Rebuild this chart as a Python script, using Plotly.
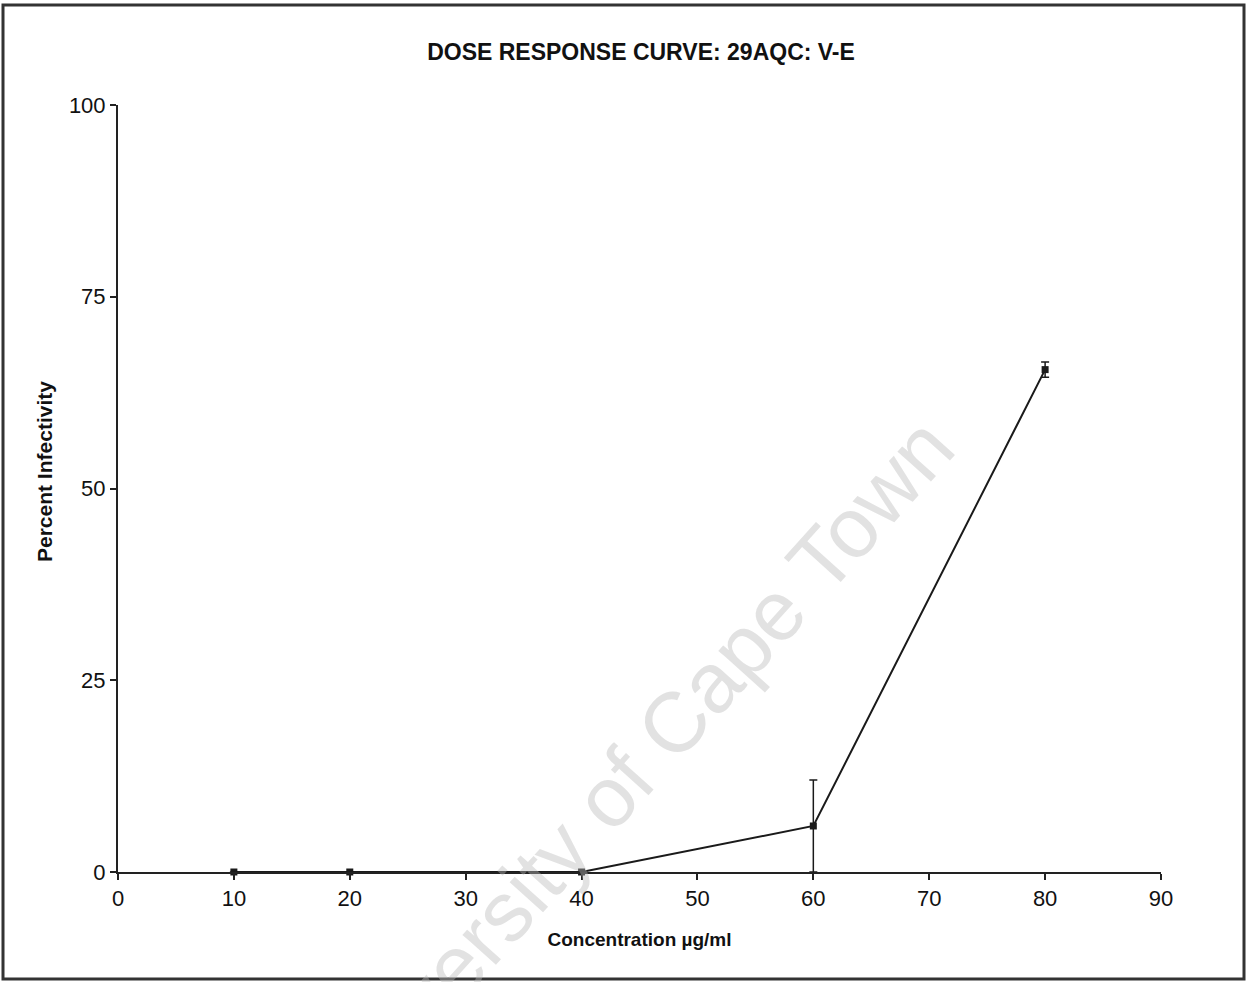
import plotly.graph_objects as go

concentration = [10, 20, 40, 60, 80]
infectivity = [0, 0, 0, 6, 65.5]
error = [0, 0, 0, 6, 1]
x_ticks = [0, 10, 20, 30, 40, 50, 60, 70, 80, 90]
y_ticks = [0, 25, 50, 75, 100]

W, H = 1247, 982
ml, mr, mt, mb = 118, 86, 105, 110
pw, ph = W - ml - mr, H - mt - mb

def px(x):
    return (x - ml) / pw

def py(y):
    return (H - mb - y) / ph

fig = go.Figure()
fig.add_trace(go.Scatter(
    x=concentration, y=infectivity,
    mode="lines+markers",
    line=dict(color="#1a1a1a", width=2),
    marker=dict(symbol="square", size=7, color="#1a1a1a"),
    error_y=dict(type="data", array=error, visible=True, color="#1a1a1a", thickness=1.5, width=4),
    showlegend=False,
    cliponaxis=False,
))

narrow = "Liberation Sans Narrow, Arial Narrow, Liberation Sans, sans-serif"
fig.update_layout(
    width=W, height=H,
    margin=dict(l=ml, r=mr, t=mt, b=mb),
    paper_bgcolor="white", plot_bgcolor="white",
    font=dict(family="Liberation Sans, Arial, sans-serif", color="#111"),
    title=dict(text="<b>DOSE RESPONSE CURVE: 29AQC: V-E</b>", xref="container", x=641 / W,
               xanchor="center", yref="container", y=1 - 52 / H, yanchor="middle",
               font=dict(size=23, family=narrow)),
    xaxis=dict(range=[0, 90], tickvals=x_ticks, ticks="outside", ticklen=6, tickwidth=1.5,
               tickcolor="#222", showline=True, linecolor="#222", linewidth=2, showgrid=False,
               zeroline=False, tickfont=dict(size=22),
               title=dict(text="<b>Concentration µg/ml</b>", font=dict(size=19), standoff=22)),
    yaxis=dict(range=[0, 100], tickvals=y_ticks, ticks="outside", ticklen=6, tickwidth=1.5,
               tickcolor="#222", showline=True, linecolor="#222", linewidth=2, showgrid=False,
               zeroline=False, tickfont=dict(size=22)),
)

# y-axis title
fig.add_annotation(text="<b>Percent Infectivity</b>", xref="paper", yref="paper",
                   x=px(44), y=py(472), xanchor="center", yanchor="middle",
                   showarrow=False, textangle=-90, font=dict(size=21, color="#111"))

# outer frame
fig.add_shape(type="rect", xref="paper", yref="paper",
              x0=px(3), x1=px(W - 3), y0=py(H - 3), y1=py(5),
              line=dict(color="#333", width=3), layer="below")

# watermark
fig.add_annotation(text="University of Cape Town", xref="paper", yref="paper",
                   x=px(630), y=py(771), xanchor="center", yanchor="middle",
                   showarrow=False, textangle=-48,
                   font=dict(size=85, color="rgba(185,185,185,0.42)"))

fig.write_html("out.html")
